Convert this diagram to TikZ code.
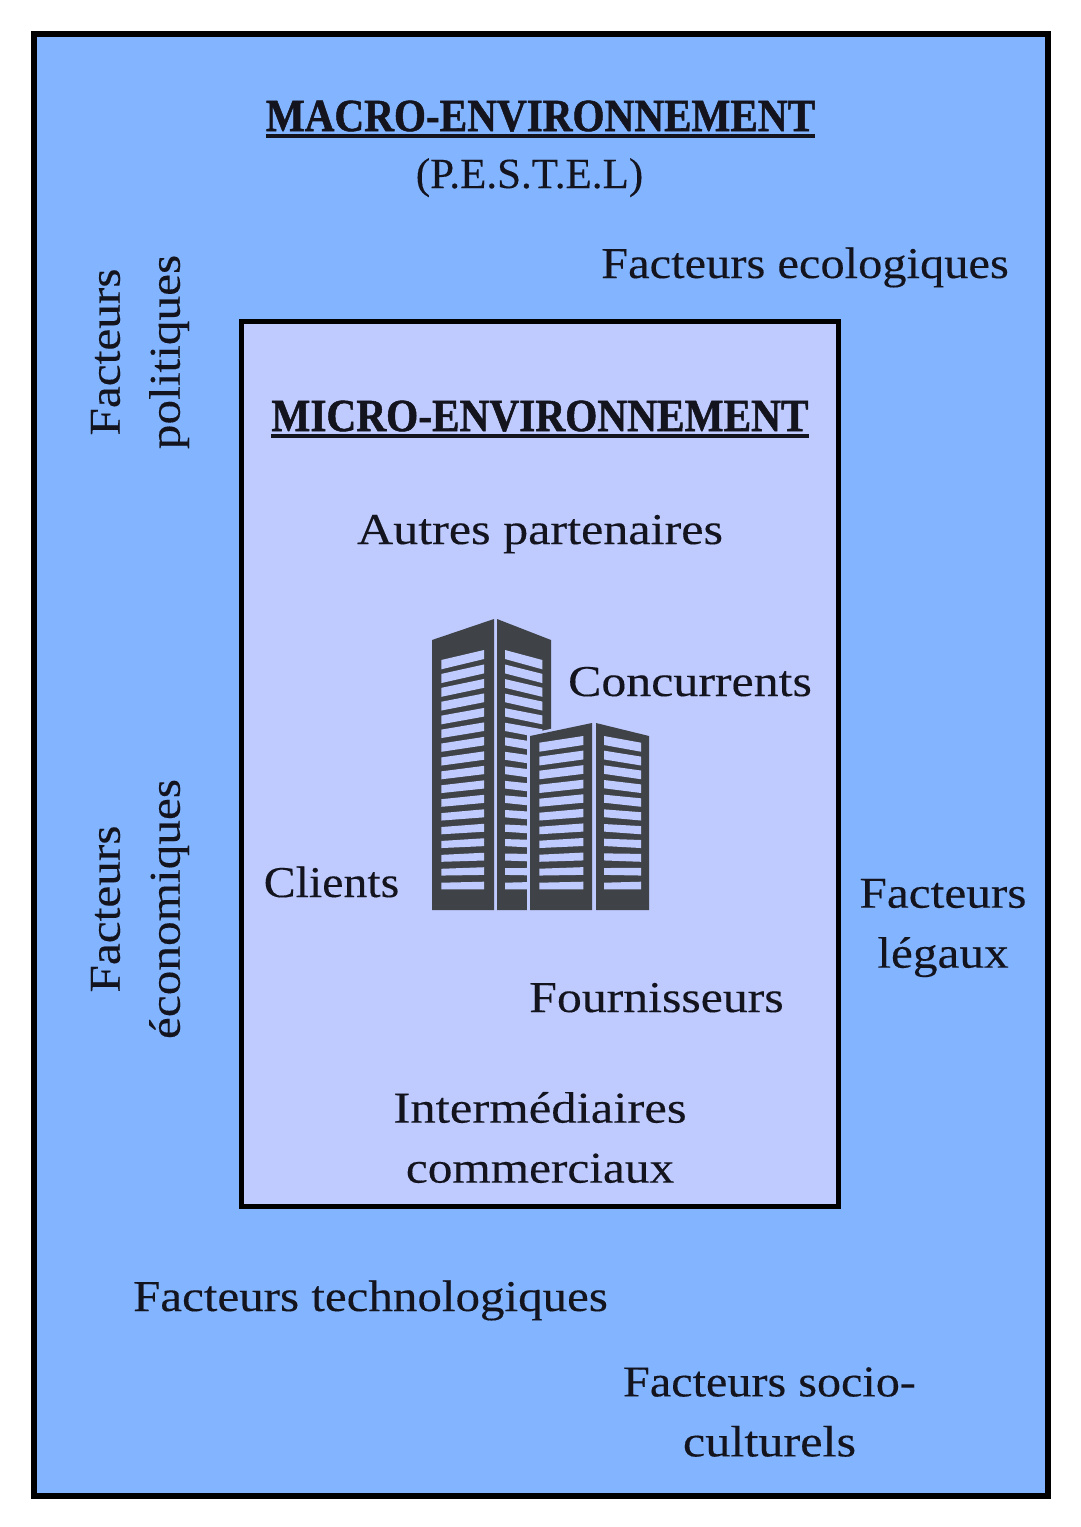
\documentclass[tikz,border=0pt]{standalone}
\usepackage{graphicx}
\usepackage{fontspec}
\setmainfont[FakeStretch=1.12,FakeBold=0.25]{Liberation Serif}
\newfontfamily\capfont[FakeBold=0.25]{Liberation Serif}
\newfontfamily\ttlfont[BoldFeatures={FakeBold=1.2}]{Liberation Serif}
\definecolor{outerblue}{HTML}{82B4FF}
\definecolor{innerblue}{HTML}{BFCBFF}
\definecolor{bldg}{HTML}{3F4347}
\definecolor{ink}{HTML}{14141E}
\newcommand{\winrows}[8]{%
  \foreach \i in {0,...,#7}{%
    \pgfmathsetmacro{\t}{\i/#7}%
    \pgfmathsetmacro{\lt}{#3+\t*(#8-#3+1)}%
    \pgfmathsetmacro{\lb}{#4+\t*(889.3-#4)}%
    \pgfmathsetmacro{\rt}{#5+\t*(#8-#5)}%
    \pgfmathsetmacro{\rb}{#6+\t*(889.3-#6)}%
    \fill[innerblue] (#1,\lt) -- (#2,\rt) -- (#2,\rb) -- (#1,\lb) -- cycle;
  }%
}
\tikzset{
  lbl/.style={text=ink,font=\fontsize{44}{60}\selectfont,align=center,inner sep=0pt,outer sep=0pt},
  ttl/.style={text=ink,font=\ttlfont\fontsize{41}{60}\selectfont\bfseries,inner sep=0pt,outer sep=0pt,anchor=base},
  uline/.style={ink,line width=4pt},
  frame/.style={draw=black}
}
\begin{document}
\begin{tikzpicture}[x=1pt,y=-1pt]
\useasboundingbox (0,0) rectangle (1080,1527);
\fill[white] (0,0) rectangle (1080,1527);
\node[frame,fill=outerblue,line width=6pt,minimum width=1014pt,minimum height=1462pt,inner sep=0pt] (outer) at (540.5,764.5) {};
\node[frame,fill=innerblue,line width=5pt,minimum width=597pt,minimum height=885pt,inner sep=0pt] (inner) at (540,764) {};
% building
\fill[bldg] (432,640) -- (494,619) -- (494,910) -- (432,910) -- cycle;
\fill[bldg] (497,619) -- (551,640) -- (551,910) -- (497,910) -- cycle;
\winrows{441.3}{484}{660}{669.3}{650}{659}{16}{881.7}
\winrows{505}{542.3}{650}{659}{660}{669.3}{16}{881.7}
\fill[innerblue] (527,734) -- (592,720) -- (592,912) -- (527,912) -- cycle;
\fill[bldg] (530,736) -- (592,723) -- (592,910) -- (530,910) -- cycle;
\fill[bldg] (596,723) -- (649,736) -- (649,910) -- (596,910) -- cycle;
\winrows{539.3}{583.3}{742.7}{751.7}{736}{745}{10}{881.7}
\winrows{604}{641}{736}{745}{742.7}{751.7}{10}{881.7}
% titles
\node[ttl] (macro) at (540.5,131) {\scalebox{1.005}[1.12]{MACRO-ENVIRONNEMENT}};
\draw[uline] (macro.south west |- 0,135.5) -- (macro.south east |- 0,135.5);
\node[lbl,anchor=base] (pestel) at (529.5,188) {\capfont\fontsize{43}{60}\selectfont (P.E.S.T.E.L)};
\node[ttl] (micro) at (540,431) {\scalebox{1.008}[1.12]{MICRO-ENVIRONNEMENT}};
\draw[uline] (micro.south west |- 0,435.5) -- (micro.south east |- 0,435.5);
% outer labels
\node[lbl,anchor=base] (eco) at (805,278) {\scalebox{.983}[1]{Facteurs ecologiques}};
\node[lbl,rotate=90] (pol) at (140,352) {Facteurs\\politiques};
\node[lbl,rotate=90] (econ) at (140,909) {Facteurs\\économiques};
\node[lbl] (leg) at (943,928) {Facteurs\\légaux};
\node[lbl,anchor=base] (tech) at (370.5,1311) {\scalebox{.994}[1]{Facteurs technologiques}};
\node[lbl] (soc) at (769.5,1412) {\scalebox{.977}[1]{Facteurs socio-}\\\scalebox{1.02}[1]{culturels}};
% inner labels
\node[lbl,anchor=base] (part) at (540,544) {\scalebox{1.017}[1]{Autres partenaires}};
\node[lbl,anchor=base] (conc) at (690,696) {\scalebox{1.012}[1]{Concurrents}};
\node[lbl,anchor=base] (cli) at (331.5,897) {\scalebox{.97}[1]{Clients}};
\node[lbl,anchor=base] (four) at (656.5,1012) {\scalebox{1.01}[1]{Fournisseurs}};
\node[lbl] (inter) at (540,1137.5) {\scalebox{1.03}[1]{Intermédiaires}\\commerciaux};
\end{tikzpicture}
\end{document}
